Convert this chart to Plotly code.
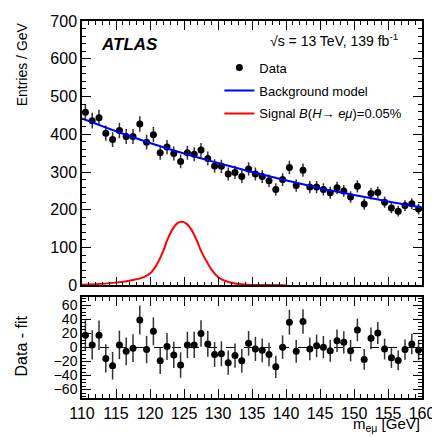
import numpy as np
import plotly.graph_objects as go
from plotly.subplots import make_subplots

# bin centres, 1 GeV bins from 110 to 160
mass = [110.5 + i for i in range(50)]

data = [458, 436, 444, 403, 386, 410, 394, 394, 427, 379,
        399, 351, 366, 349, 328, 351, 347, 358, 336, 316,
        315, 295, 299, 288, 308, 295, 288, 277, 254, 280,
        312, 264, 305, 260, 260, 254, 245, 258, 250, 234,
        262, 215, 243, 246, 220, 205, 196, 211, 216, 202]

resid = [17.5, 3.7, 17.5, -15.6, -26, 3.7, -5.5, -1, 39, -3,
         23, -19, 1.4, -10.6, -25, 3.7, 3.7, 19.8, 5, -10,
         -9, -21.6, -11.5, -19, 6, -2, -4, -10, -27.6, 0.5,
         36, -5.5, 37, -2, 2.3, 0.5, -4.6, 9.7, 7.4, -4.6,
         25, -17, 13, 20.7, -2.3, -14.7, -18.4, -3, 5, -4]

bkg_m = [110, 115, 120, 125, 130, 135, 140, 145, 150, 155, 160]
bkg_y = [442, 408, 377, 349, 324, 300, 278, 257, 239, 222, 206]

sig_m = [110, 112.5, 115, 117.5, 119, 120, 121, 122, 122.5, 123.3, 124, 124.6,
         125.3, 126.2, 126.9, 127.6, 128.4, 129.1, 130, 131, 132.5, 135, 137, 140]
sig_y = [1.5, 3.5, 7, 14, 21, 31, 55, 93, 118, 148, 164, 168,
         164, 144, 118, 87, 61, 40, 22, 12, 5, 1, 0.5, 0]

err = np.sqrt(np.array(data, dtype=float))

FONT = "Liberation Sans, Arial, sans-serif"

fig = make_subplots(rows=2, cols=1, shared_xaxes=True, vertical_spacing=0.03,
                    row_heights=[0.72, 0.28])

fig.add_trace(go.Scatter(
    x=mass, y=data, mode='markers', name='Data', legendgroup='a',
    marker=dict(color='black', size=7),
    error_y=dict(type='data', array=err, width=0, thickness=1.5, color='#333')
), row=1, col=1)
fig.add_trace(go.Scatter(
    x=bkg_m, y=bkg_y, mode='lines', name='Background model', legendgroup='b',
    line=dict(color='#0000ff', width=2, shape='spline')
), row=1, col=1)
fig.add_trace(go.Scatter(
    x=sig_m, y=sig_y, mode='lines', legendgroup='c',
    name='Signal <i>B</i>(<i>H</i>→ <i>eμ</i>)=0.05%',
    line=dict(color='#ff0000', width=2, shape='spline')
), row=1, col=1)

fig.add_trace(go.Scatter(
    x=[110, 160], y=[0, 0], mode='lines', showlegend=False,
    line=dict(color='black', width=1, dash='dash')
), row=2, col=1)
fig.add_trace(go.Scatter(
    x=mass, y=resid, mode='markers', showlegend=False,
    marker=dict(color='black', size=7),
    error_y=dict(type='data', array=err, width=0, thickness=1.5, color='#333')
), row=2, col=1)

axis_style = dict(
    showline=True, linecolor='black', linewidth=1.5, mirror='allticks',
    ticks='inside', ticklen=9, tickwidth=1.3, tickcolor='black',
    showgrid=False, zeroline=False, ticklabeloverflow='allow',
    tickfont=dict(family=FONT, size=16, color='black'),
)

fig.update_xaxes(axis_style)
fig.update_yaxes(axis_style)
fig.update_xaxes(range=[110, 160], dtick=5,
                 minor=dict(ticks='inside', ticklen=4, dtick=1, tickcolor='black'))
fig.update_xaxes(showticklabels=False, row=1, col=1)
fig.update_yaxes(range=[0, 700], dtick=100,
                 minor=dict(ticks='inside', ticklen=4, dtick=20, tickcolor='black'),
                 row=1, col=1)
fig.update_yaxes(range=[-72, 72], tickvals=[-60, -40, -20, 0, 20, 40, 60],
                 tickfont=dict(size=14),
                 minor=dict(ticks='inside', ticklen=4, dtick=5, tickcolor='black'),
                 row=2, col=1)
fig.update_layout(
    yaxis=dict(domain=[0.299, 1]),
    yaxis2=dict(domain=[0, 0.268]),
)

fig.add_annotation(text='<b><i>ATLAS</i></b>', xref='paper', yref='paper',
                   x=0.05, y=0.938, xanchor='left', yanchor='middle', showarrow=False,
                   font=dict(family=FONT, size=17, color='black'))
fig.add_annotation(text='√s = 13 TeV, 139 fb<sup>-1</sup>', xref='paper', yref='paper',
                   x=0.935, y=0.95, xanchor='right', yanchor='middle', showarrow=False,
                   font=dict(family=FONT, size=14, color='black'))
fig.add_annotation(text='Entries / GeV', xref='paper', yref='paper', textangle=-90,
                   x=-0.178, y=1.003, xanchor='center', yanchor='top', showarrow=False,
                   font=dict(family=FONT, size=14, color='black'))
fig.add_annotation(text='Data - fit', xref='paper', yref='paper', textangle=-90,
                   x=-0.178, y=0.138, xanchor='center', yanchor='middle', showarrow=False,
                   font=dict(family=FONT, size=16, color='black'))
fig.add_annotation(text='m<sub>eμ</sub> [GeV]', xref='paper', yref='paper',
                   x=1.0, y=-0.102, xanchor='right', yanchor='bottom', showarrow=False,
                   font=dict(family=FONT, size=15, color='black'))

fig.update_layout(
    width=432, height=429,
    margin=dict(l=74, r=14, t=5, b=39),
    plot_bgcolor='white', paper_bgcolor='white',
    font=dict(family=FONT, size=13, color='black'),
    legend=dict(x=0.404, y=0.916, xanchor='left', yanchor='top',
                bgcolor='rgba(0,0,0,0)', traceorder='grouped', tracegroupgap=3,
                font=dict(family=FONT, size=13)),
)

fig.write_html("out.html")
